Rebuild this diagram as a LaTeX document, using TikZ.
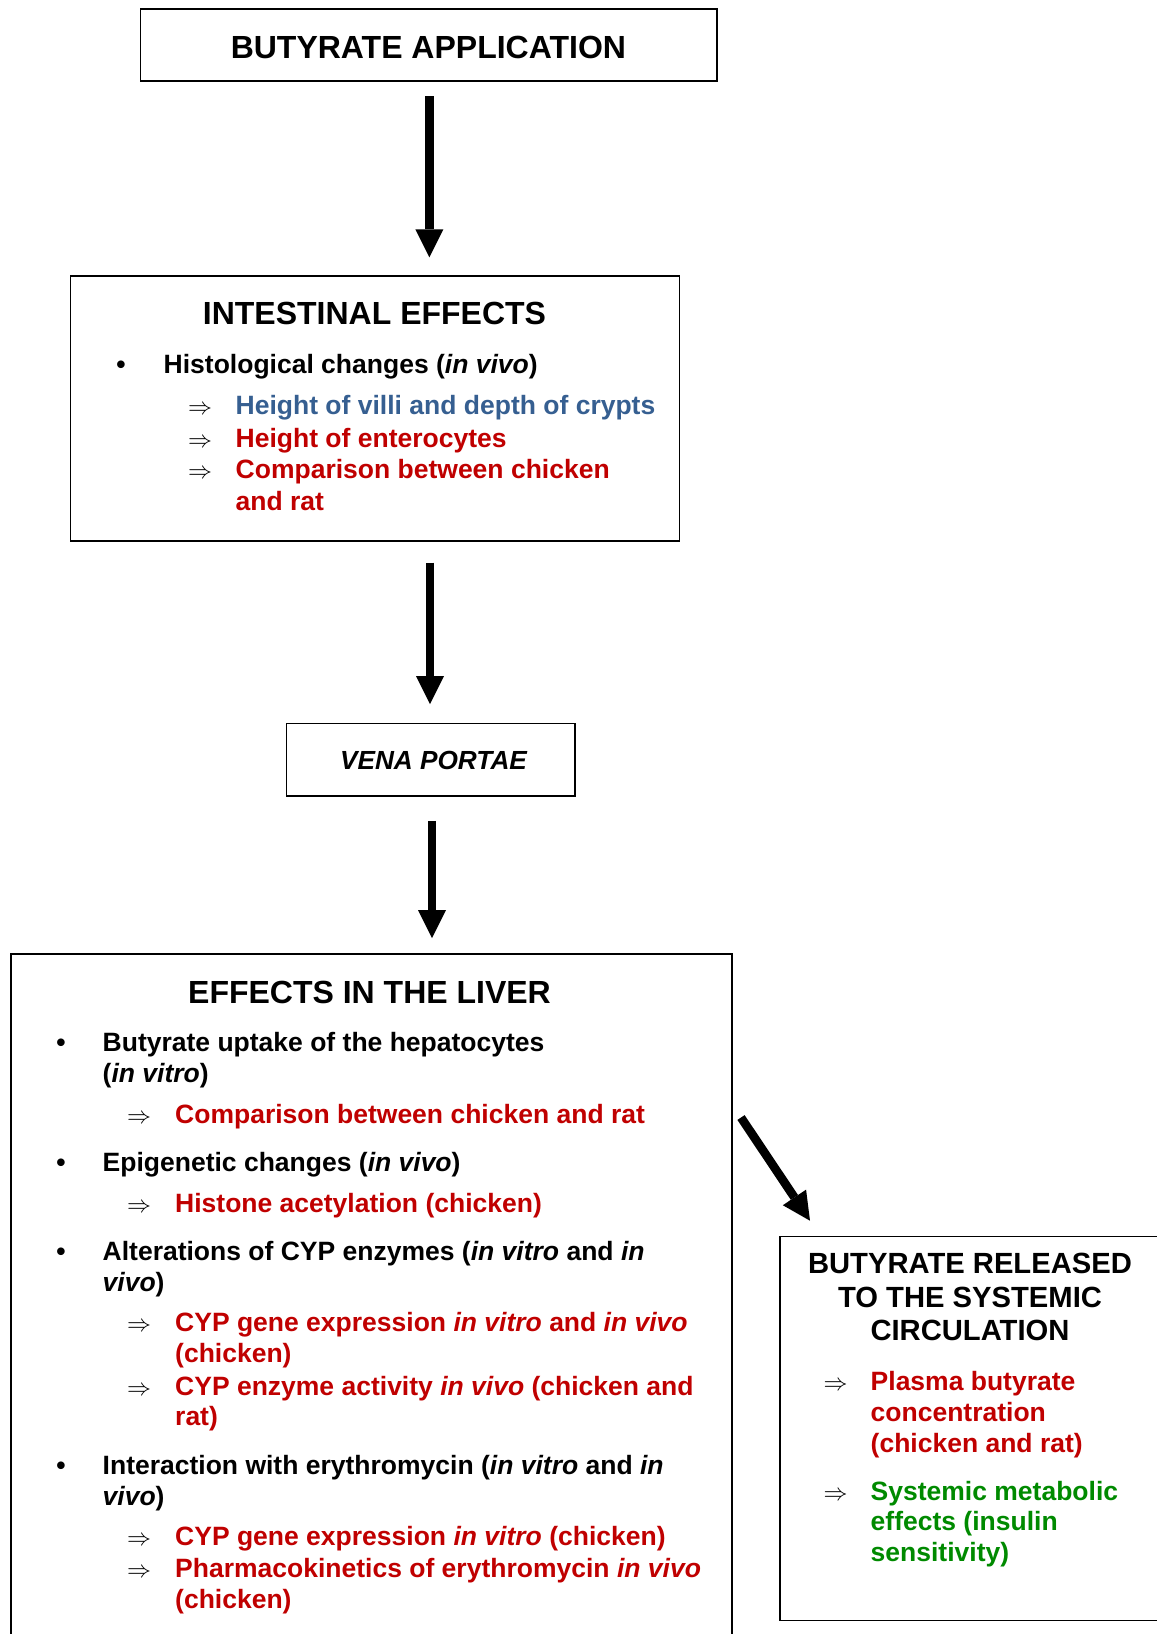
\RequirePackage{fix-cm}
\documentclass[tikz,border=0pt]{standalone}
\usepackage{fontspec}
\setmainfont{Liberation Sans}
\usetikzlibrary{arrows.meta}
\definecolor{myred}{HTML}{C00000}
\definecolor{myblue}{HTML}{365F91}
\definecolor{mygreen}{HTML}{008A00}
\newcommand\imp{{\fontsize{24}{24}\selectfont$\Rightarrow$}}
\tikzset{
  boxnode/.style={draw=black, line width=1.6pt, anchor=north west, inner sep=0pt},
  bigarrow/.style={line width=8.7pt, -{Triangle[width=28pt,length=28pt,line width=0pt]}},
  txt/.style={anchor=base west, inner sep=0pt, font=\fontsize{26.5}{31}\selectfont\bfseries},
  ctrtitle/.style={anchor=base, inner sep=0pt, font=\fontsize{32}{36}\selectfont\bfseries},
  rtitle/.style={anchor=base, inner sep=0pt, font=\fontsize{29.2}{33.5}\selectfont\bfseries},
  bul/.style={anchor=base, inner sep=0pt, font=\fontsize{26.5}{31}\selectfont\bfseries},
  impl/.style={anchor=base west, inner sep=0pt},
  redtxt/.style={text=myred},
  bluetxt/.style={text=myblue},
  greentxt/.style={text=mygreen}
}
\begin{document}
\begin{tikzpicture}[x=1pt,y=-1pt]
\useasboundingbox (0,0) rectangle (1157,1634);
\clip (0,0) rectangle (1157,1634);

% ---------- boxes ----------
\node[boxnode, minimum width=576.4pt, minimum height=72pt] (box1) at (139.7,8.3) {};
\node[boxnode, minimum width=608.7pt, minimum height=264.7pt] (box2) at (69.8,275.2) {};
\node[boxnode, minimum width=288.6pt, minimum height=72.8pt] (vena) at (285.6,722.5) {};
\node[boxnode, minimum width=721pt, minimum height=760pt] (liver) at (10.4,953) {};
\node[boxnode, minimum width=500pt, minimum height=384pt] (syst) at (779,1235.5) {};

% ---------- arrows ----------
\coordinate (ax1) at (429.4,0);
\coordinate (ax2) at (430,0);
\coordinate (ax3) at (432,0);
\draw[bigarrow, shorten <=14.5pt, shorten >=17.8pt] (box1.south -| ax1) -- (box2.north -| ax1);
\draw[bigarrow, shorten <=21pt, shorten >=18.5pt] (box2.south -| ax2) -- (vena.north -| ax2);
\draw[bigarrow, shorten <=24pt, shorten >=15pt] (vena.south -| ax3) -- (liver.north -| ax3);
\coordinate (d1) at (741,1117.5);
\coordinate (d2) at (810,1220.7);
\draw[bigarrow] (d1) -- (d2);

% ---------- box 1 ----------
\node[ctrtitle] (t1) at (428.4,58.5) {BUTYRATE APPLICATION};

% ---------- intestinal ----------
\node[ctrtitle] (t2) at (374.5,324) {INTESTINAL EFFECTS};
\node[bul] (b2a) at (121,373.3) {•};
\node[txt] (l2a) at (163.5,373.3) {Histological changes (\textit{in vivo})};
\node[impl] (i2a) at (188,414) {\imp};
\node[impl] (i2b) at (188,447.3) {\imp};
\node[impl] (i2c) at (188,478.3) {\imp};
\node[txt, bluetxt] (l2b) at (235.5,414) {Height of villi and depth of crypts};
\node[txt, redtxt] (l2c) at (235.5,447.3) {Height of enterocytes};
\node[txt, redtxt] (l2d) at (235.5,478.3) {Comparison between chicken};
\node[txt, redtxt] (l2e) at (235.5,510) {and rat};

% ---------- vena portae ----------
\node[anchor=base, inner sep=0pt, font=\fontsize{26.2}{30}\selectfont\bfseries\itshape] (t3) at (433.5,769) {VENA PORTAE};

% ---------- liver ----------
\node[ctrtitle] (t4) at (369.5,1003.3) {EFFECTS IN THE LIVER};
\node[bul] (b4a) at (61,1051.7) {•};
\node[txt] (l4a) at (102.5,1051.7) {Butyrate uptake of the hepatocytes};
\node[txt] (l4b) at (102.5,1082.3) {(\textit{in vitro})};
\node[impl] (i4a) at (127,1123.3) {\imp};
\node[txt, redtxt] (l4c) at (175,1123.3) {Comparison between chicken and rat};

\node[bul] (b4b) at (61,1171.7) {•};
\node[txt] (l4d) at (102.5,1171.7) {Epigenetic changes (\textit{in vivo})};
\node[impl] (i4b) at (127,1212.7) {\imp};
\node[txt, redtxt] (l4e) at (175,1212.7) {Histone acetylation (chicken)};

\node[bul] (b4c) at (61,1260.7) {•};
\node[txt] (l4f) at (102.5,1260.7) {Alterations of CYP enzymes (\textit{in vitro} and \textit{in}};
\node[txt] (l4g) at (102.5,1291) {\textit{vivo})};
\node[impl] (i4c) at (127,1331.7) {\imp};
\node[txt, redtxt] (l4h) at (175,1331.7) {CYP gene expression \textit{in vitro} and \textit{in vivo}};
\node[txt, redtxt] (l4i) at (175,1362.7) {(chicken)};
\node[impl] (i4d) at (127,1395.7) {\imp};
\node[txt, redtxt] (l4j) at (175,1395.7) {CYP enzyme activity \textit{in vivo} (chicken and};
\node[txt, redtxt] (l4k) at (175,1425) {rat)};

\node[bul] (b4d) at (61,1474.3) {•};
\node[txt] (l4l) at (102.5,1474.3) {Interaction with erythromycin (\textit{in vitro} and \textit{in}};
\node[txt] (l4m) at (102.5,1505) {\textit{vivo})};
\node[impl] (i4e) at (127,1545) {\imp};
\node[txt, redtxt] (l4n) at (175,1545) {CYP gene expression \textit{in vitro} (chicken)};
\node[impl] (i4f) at (127,1577.7) {\imp};
\node[txt, redtxt] (l4o) at (175,1577.7) {Pharmacokinetics of erythromycin \textit{in vivo}};
\node[txt, redtxt] (l4p) at (175,1608.3) {(chicken)};

% ---------- systemic ----------
\node[rtitle] (t5a) at (970,1273.7) {BUTYRATE RELEASED};
\node[rtitle] (t5b) at (970,1307.1) {TO THE SYSTEMIC};
\node[rtitle] (t5c) at (970,1340.8) {CIRCULATION};
\node[impl] (i5a) at (823.3,1390.2) {\imp};
\node[txt, redtxt] (l5a) at (870.5,1390.2) {Plasma butyrate};
\node[txt, redtxt] (l5b) at (870.5,1421.9) {concentration};
\node[txt, redtxt] (l5c) at (870.5,1452.5) {(chicken and rat)};
\node[impl] (i5b) at (823.3,1500.2) {\imp};
\node[txt, greentxt] (l5d) at (870.5,1500.2) {Systemic metabolic};
\node[txt, greentxt] (l5e) at (870.5,1530.8) {effects (insulin};
\node[txt, greentxt] (l5f) at (870.5,1561.5) {sensitivity)};
\end{tikzpicture}
\end{document}
